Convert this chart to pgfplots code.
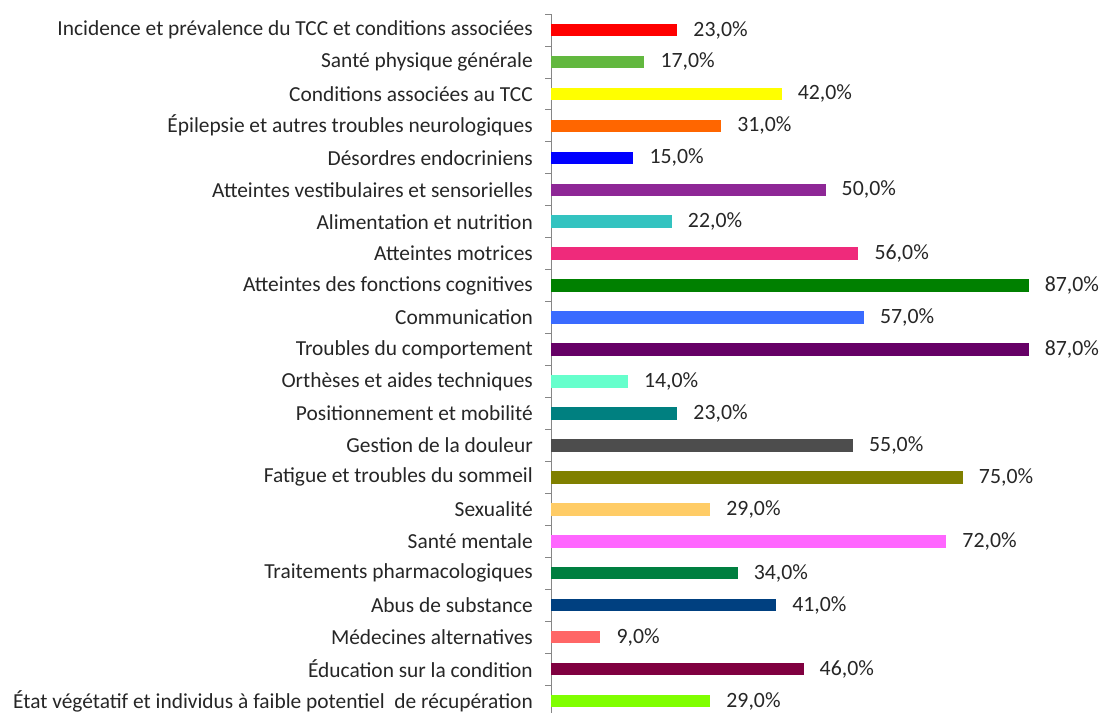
\documentclass[border=0pt]{standalone}
\usepackage{pgfplots}
\pgfplotsset{compat=1.18}
\usepackage{fontspec}
\setmainfont{Carlito}
\definecolor{txt}{HTML}{262626}
\definecolor{axgray}{HTML}{868686}
\definecolor{c1}{HTML}{FF0000}
\definecolor{c2}{HTML}{62B83F}
\definecolor{c3}{HTML}{FFFF00}
\definecolor{c4}{HTML}{FF6600}
\definecolor{c5}{HTML}{0000FF}
\definecolor{c6}{HTML}{8E2796}
\definecolor{c7}{HTML}{33C3C0}
\definecolor{c8}{HTML}{EF2A7B}
\definecolor{c9}{HTML}{008000}
\definecolor{c10}{HTML}{3A6BFF}
\definecolor{c11}{HTML}{660066}
\definecolor{c12}{HTML}{66FFCC}
\definecolor{c13}{HTML}{008080}
\definecolor{c14}{HTML}{4D4D4D}
\definecolor{c15}{HTML}{808000}
\definecolor{c16}{HTML}{FFCC66}
\definecolor{c17}{HTML}{FF66FF}
\definecolor{c18}{HTML}{007F40}
\definecolor{c19}{HTML}{004080}
\definecolor{c20}{HTML}{FF6666}
\definecolor{c21}{HTML}{800040}
\definecolor{c22}{HTML}{80FF00}
\begin{document}
\begin{tikzpicture}
\useasboundingbox (0,0) rectangle (1101bp,713bp);
\begin{axis}[
  at={(551bp,-4bp)}, anchor=south west,
  scale only axis, width=549bp, height=703bp,
  xmin=0, xmax=100, ymin=-0.5, ymax=21.5, y dir=reverse,
  axis x line=none, axis y line=left,
  y axis line style={-, draw=axgray, line width=0.8bp},
  ytick={0,...,21},
  minor ytick={-0.5,0.5,...,21.5},
  major tick length=0pt, minor tick length=6bp,
  tick align=outside,
  minor tick style={draw=axgray, line width=0.8bp},
  yticklabels={
    {Incidence et prévalence du TCC et conditions associées},
    {Santé physique générale},
    {Conditions associées au TCC\ },
    {Épilepsie et autres troubles neurologiques},
    {Désordres endocriniens},
    {Atteintes vestibulaires et sensorielles},
    {Alimentation et nutrition},
    {Atteintes motrices},
    {Atteintes des fonctions cognitives},
    {Communication},
    {Troubles du comportement},
    {Orthèses et aides techniques},
    {Positionnement et mobilité},
    {Gestion de la douleur},
    {Fatigue et troubles du sommeil},
    {Sexualité},
    {Santé mentale\ },
    {Traitements pharmacologiques},
    {Abus de substance},
    {Médecines alternatives\ },
    {Éducation sur la condition},
    {État végétatif et individus à faible potentiel\ \ de récupération}
  },
  yticklabel style={font=\fontsize{21.4bp}{25bp}\selectfont, text=txt, inner sep=0pt, anchor=east, xshift=-18bp},
  xbar, bar width=12.5bp, bar shift=0pt,
  nodes near coords={\pgfmathprintnumber[fixed,fixed zerofill,precision=1,use comma,assume math mode=true]{\pgfplotspointmeta}\%},
  every node near coord/.append style={font=\fontsize{21.8bp}{25bp}\selectfont, text=txt, anchor=west, inner sep=0pt, xshift=16bp},
  clip=false,
]
\addplot[fill=c1, draw=none] coordinates {(23,0)};
\addplot[fill=c2, draw=none] coordinates {(17,1)};
\addplot[fill=c3, draw=none] coordinates {(42,2)};
\addplot[fill=c4, draw=none] coordinates {(31,3)};
\addplot[fill=c5, draw=none] coordinates {(15,4)};
\addplot[fill=c6, draw=none] coordinates {(50,5)};
\addplot[fill=c7, draw=none] coordinates {(22,6)};
\addplot[fill=c8, draw=none] coordinates {(56,7)};
\addplot[fill=c9, draw=none] coordinates {(87,8)};
\addplot[fill=c10, draw=none] coordinates {(57,9)};
\addplot[fill=c11, draw=none] coordinates {(87,10)};
\addplot[fill=c12, draw=none] coordinates {(14,11)};
\addplot[fill=c13, draw=none] coordinates {(23,12)};
\addplot[fill=c14, draw=none] coordinates {(55,13)};
\addplot[fill=c15, draw=none] coordinates {(75,14)};
\addplot[fill=c16, draw=none] coordinates {(29,15)};
\addplot[fill=c17, draw=none] coordinates {(72,16)};
\addplot[fill=c18, draw=none] coordinates {(34,17)};
\addplot[fill=c19, draw=none] coordinates {(41,18)};
\addplot[fill=c20, draw=none] coordinates {(9,19)};
\addplot[fill=c21, draw=none] coordinates {(46,20)};
\addplot[fill=c22, draw=none] coordinates {(29,21)};
\end{axis}
\end{tikzpicture}
\end{document}
